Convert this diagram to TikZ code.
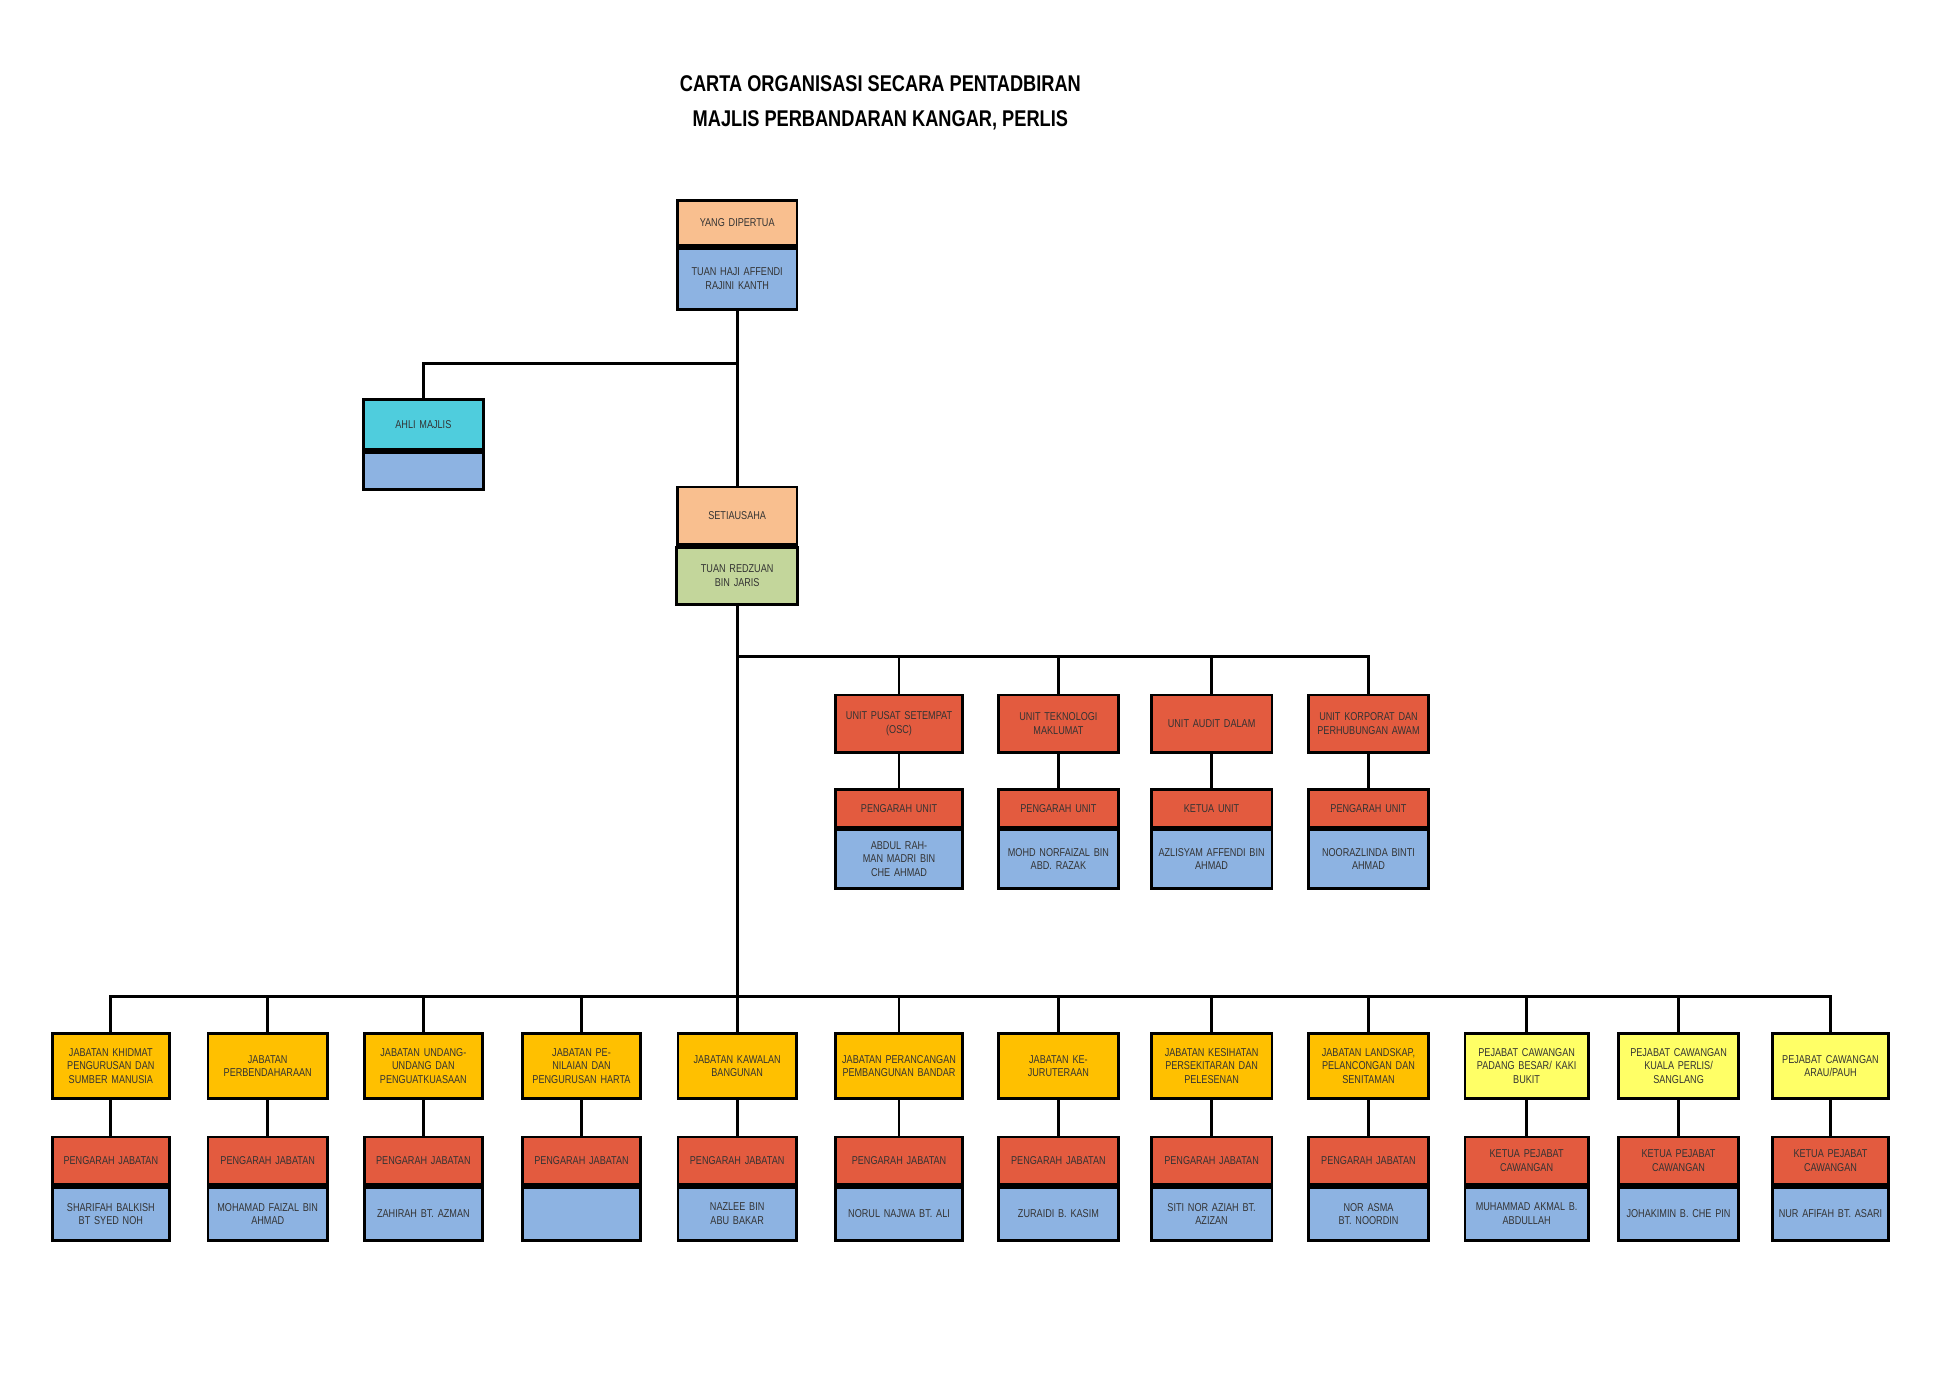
\documentclass[tikz,border=0pt]{standalone}
\usepackage{fontspec}
\setmainfont{Liberation Sans}[FakeStretch=0.8]
\definecolor{peach}{HTML}{F9BF8F}
\definecolor{sky}{HTML}{8DB3E2}
\definecolor{teal}{HTML}{4FCDDD}
\definecolor{sage}{HTML}{C3D69B}
\definecolor{brick}{HTML}{E35B3F}
\definecolor{amber}{HTML}{FFC000}
\definecolor{lemon}{HTML}{FFFF66}

\begin{document}
\begin{tikzpicture}[x=0.025cm, y=-0.025cm,
    every node/.style={draw, line width=1.6pt, anchor=north, inner sep=1pt, align=center,
        text=black!80, font=\fontsize{6.5}{7.8}\selectfont},
    link/.style={line width=1.6pt}]
    \useasboundingbox (0,0) rectangle (1566,1108);
    \node[draw=none, font=\bfseries\fontsize{13}{20}\selectfont, text=black] (title) at (707,58)
        {CARTA ORGANISASI SECARA PENTADBIRAN\\MAJLIS PERBANDARAN KANGAR, PERLIS};

    % pucuk pimpinan
    \node[fill=peach, minimum width=96*0.025cm, text width=90*0.025cm, minimum height=36*0.025cm] (ydp) at (592,160) {YANG DIPERTUA};
    \node[fill=sky, minimum width=96*0.025cm, text width=90*0.025cm, minimum height=49*0.025cm] (ydpb) at (ydp.south) {TUAN HAJI AFFENDI\\RAJINI KANTH};
    \node[fill=teal, minimum width=96*0.025cm, text width=90*0.025cm, minimum height=40*0.025cm] (ahli) at (340,320) {AHLI MAJLIS};
    \node[fill=sky, minimum width=96*0.025cm, text width=90*0.025cm, minimum height=30*0.025cm] (ahlib) at (ahli.south) {};
    \node[fill=peach, minimum width=96*0.025cm, text width=90*0.025cm, minimum height=46*0.025cm] (setia) at (592,390) {SETIAUSAHA};
    \node[fill=sage, minimum width=96*0.025cm, text width=94*0.025cm, minimum height=46*0.025cm] (setiab) at (setia.south) {TUAN REDZUAN BIN JARIS};

    \coordinate (j1) at (592,292);
    \coordinate (ubus) at (592,527);
    \coordinate (bus) at (592,800);
    \draw[link] (ydpb.south) -- (setia.north);
    \draw[link] (ahli.north) |- (j1);
    \draw[link] (setiab.south) -- (bus);

    % unit
    \foreach \n/\x/\w/\t/\p/\q in {
        1/722/102/{UNIT PUSAT SETEMPAT\\(OSC)}/PENGARAH UNIT/{ABDUL RAHMAN MADRI BIN\\CHE AHMAD},
        2/850/96/{UNIT TEKNOLOGI\\MAKLUMAT}/PENGARAH UNIT/{MOHD NORFAIZAL BIN\\ABD. RAZAK},
        3/973/97/{UNIT AUDIT DALAM}/KETUA UNIT/{AZLISYAM AFFENDI BIN\\AHMAD},
        4/1099/96/{UNIT KORPORAT DAN\\PERHUBUNGAN AWAM}/PENGARAH UNIT/{NOORAZLINDA BINTI\\AHMAD}} {
        \node[fill=brick, minimum width=\w*0.025cm, text width=\w*0.025cm-4pt, minimum height=46*0.025cm] (unit\n) at (\x,557) {\t};
        \node[fill=brick, minimum width=\w*0.025cm, text width=\w*0.025cm-4pt, minimum height=30*0.025cm] (unitp\n) at (\x,633) {\p};
        \node[fill=sky, minimum width=\w*0.025cm, text width=\w*0.025cm-4pt, minimum height=47*0.025cm] (unitn\n) at (unitp\n.south) {\q};
        \draw[link] (unit\n.north) |- (ubus);
        \draw[link] (unit\n.south) -- (unitp\n.north);
    }

    % jabatan dan pejabat cawangan
    \foreach \n/\x/\w/\c/\t/\p/\q in {
        1/89/94/amber/{JABATAN KHIDMAT\\PENGURUSAN DAN\\SUMBER MANUSIA}/PENGARAH JABATAN/{SHARIFAH BALKISH\\BT SYED NOH},
        2/215/96/amber/{JABATAN\\PERBENDAHARAAN}/PENGARAH JABATAN/{MOHAMAD FAIZAL BIN\\AHMAD},
        3/340/95/amber/{JABATAN UNDANG-\\UNDANG DAN\\PENGUATKUASAAN}/PENGARAH JABATAN/{ZAHIRAH BT. AZMAN},
        4/467/95/amber/{JABATAN PENILAIAN DAN\\PENGURUSAN HARTA}/PENGARAH JABATAN/{},
        5/592/95/amber/{JABATAN KAWALAN\\BANGUNAN}/PENGARAH JABATAN/{NAZLEE BIN ABU BAKAR},
        6/722/102/amber/{JABATAN PERANCANGAN\\PEMBANGUNAN BANDAR}/PENGARAH JABATAN/{NORUL NAJWA BT. ALI},
        7/850/96/amber/{JABATAN KEJURUTERAAN}/PENGARAH JABATAN/{ZURAIDI B. KASIM},
        8/973/97/amber/{JABATAN KESIHATAN\\PERSEKITARAN DAN\\PELESENAN}/PENGARAH JABATAN/{SITI NOR AZIAH BT.\\AZIZAN},
        9/1099/96/amber/{JABATAN LANDSKAP,\\PELANCONGAN DAN\\SENITAMAN}/PENGARAH JABATAN/{NOR ASMA BT. NOORDIN},
        10/1226/99/lemon/{PEJABAT CAWANGAN\\PADANG BESAR/ KAKI\\BUKIT}/{KETUA PEJABAT\\CAWANGAN}/{MUHAMMAD AKMAL B.\\ABDULLAH},
        11/1348/96/lemon/{PEJABAT CAWANGAN\\KUALA PERLIS/\\SANGLANG}/{KETUA PEJABAT\\CAWANGAN}/{JOHAKIMIN B. CHE PIN},
        12/1470/93/lemon/{PEJABAT CAWANGAN\\ARAU/PAUH}/{KETUA PEJABAT\\CAWANGAN}/{NUR AFIFAH BT. ASARI}} {
        \node[fill=\c, minimum width=\w*0.025cm, text width=\w*0.025cm-4pt, minimum height=52*0.025cm] (jab\n) at (\x,829) {\t};
        \node[fill=brick, minimum width=\w*0.025cm, text width=\w*0.025cm-4pt, minimum height=38*0.025cm] (jabp\n) at (\x,912) {\p};
        \node[fill=sky, minimum width=\w*0.025cm, text width=\w*0.025cm-4pt, minimum height=43*0.025cm] (jabn\n) at (jabp\n.south) {\q};
        \draw[link] (jab\n.north) |- (bus);
        \draw[link] (jab\n.south) -- (jabp\n.north);
    }
\end{tikzpicture}
\end{document}
